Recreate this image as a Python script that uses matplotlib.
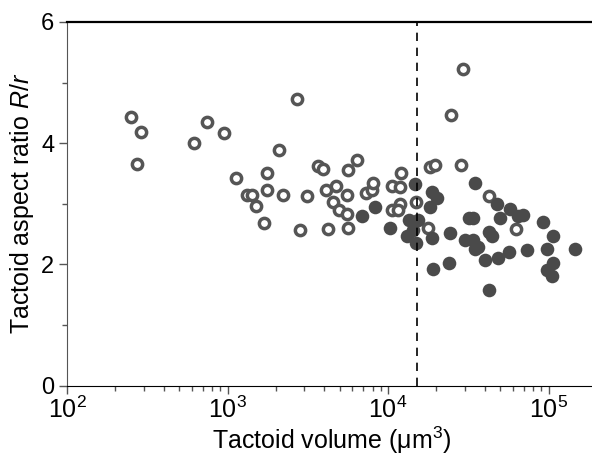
import matplotlib
matplotlib.use("Agg")
from matplotlib import pyplot as plt
from matplotlib.ticker import LogLocator, MultipleLocator

# open circles (smaller tactoids)
open_vol = [251, 288, 274, 621, 748, 951, 1125, 1318, 1416, 1493, 1683, 1763,
            1770, 2094, 2207, 2710, 2843, 3114, 3681, 3919, 4090, 4722, 4563,
            4950, 4200, 5664, 5530, 5580, 5664, 6440, 7300, 7900, 8030, 10550,
            11880, 12050, 11880, 10550, 11600, 15000, 17800, 18300, 19600,
            24600, 28400, 29200, 42200, 63000]
open_ratio = [4.43, 4.19, 3.65, 4.00, 4.35, 4.16, 3.42, 3.14, 3.14, 2.96, 2.69, 3.51,
              3.23, 3.89, 3.14, 4.73, 2.56, 3.13, 3.62, 3.57, 3.22, 3.29, 3.03,
              2.89, 2.58, 3.56, 3.14, 2.83, 2.60, 3.72, 3.17, 3.23, 3.34, 3.29,
              3.28, 3.51, 3.00, 2.90, 2.90, 3.03, 2.60, 3.60, 3.64,
              4.47, 3.64, 5.22, 3.13, 2.58]

# filled circles (larger tactoids)
fill_vol = [6920, 8300, 10300, 13400, 13070, 14720, 14350, 15460, 15000, 18700,
            20100, 18300, 18700, 19150, 23800, 24300, 31700, 34000, 34800, 30300,
            34000, 36500, 34800, 42200, 40000, 48500, 42800, 47500, 49800, 57500,
            69700, 64800, 57000, 73800, 92000, 106000, 97400, 106000, 97400,
            104700, 146000, 44300]
fill_ratio = [2.79, 2.95, 2.60, 2.73, 2.46, 3.33, 2.57, 2.73, 2.35, 3.20,
              3.10, 2.95, 2.43, 1.93, 2.03, 2.51, 2.76, 2.76, 3.35, 2.40,
              2.40, 2.29, 2.26, 2.54, 2.07, 2.10, 1.58, 3.00, 2.76, 2.92,
              2.81, 2.79, 2.21, 2.23, 2.70, 2.46, 2.25, 2.02, 1.91,
              1.80, 2.25, 2.46]

v_crit = 15200

plt.rcParams["font.family"] = ["Liberation Sans", "DejaVu Sans"]
plt.rcParams["mathtext.fontset"] = "custom"
plt.rcParams["mathtext.rm"] = "Liberation Sans"
plt.rcParams["mathtext.it"] = "Liberation Sans:italic"

fig = plt.figure(figsize=(5.92, 4.59), dpi=100)
ax = fig.add_axes([67 / 592, 1 - 385.5 / 459, 530 / 592, 363.5 / 459])

ax.plot(open_vol, open_ratio, "o", ms=7.4, mfc="white", mec="#555555", mew=2.5, ls="none")
ax.plot(fill_vol, fill_ratio, "o", ms=9.8, mfc="#4a4a4a", mec="#4a4a4a", mew=0, ls="none")
ax.axvline(v_crit, color="black", lw=1.2, ls=(0, (5, 4)))

ax.set_xscale("log")
ax.set_xlim(100, 2e5)
ax.set_ylim(0, 6)
ax.yaxis.set_major_locator(MultipleLocator(2))
ax.yaxis.set_minor_locator(MultipleLocator(1))
ax.xaxis.set_major_locator(LogLocator(base=10, numticks=10))
ax.xaxis.set_minor_locator(LogLocator(base=10, subs=range(2, 10), numticks=20))

ax.spines["right"].set_visible(False)
ax.spines["top"].set_linewidth(1.6)
ax.spines["left"].set_color("#555555")
ax.tick_params(which="major", direction="out", length=6, width=1, color="#555555", pad=3)
ax.tick_params(which="minor", direction="out", length=3.5, width=1, color="#555555")
ax.tick_params(axis="x", labelsize=18, pad=2)
ax.tick_params(axis="y", labelsize=17)

ax.set_xlabel("Tactoid volume (μm$^3$)", fontsize=18, labelpad=1)
ax.set_ylabel("Tactoid aspect ratio $\\it{R/r}$", fontsize=18, labelpad=4)

fig.savefig("out.png", dpi=100)
